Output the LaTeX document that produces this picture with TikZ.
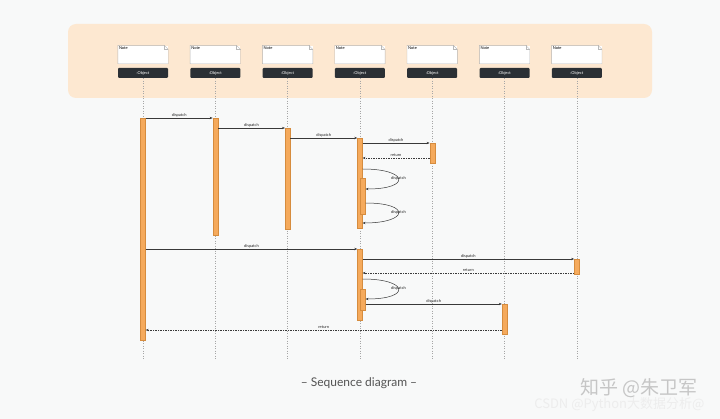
\documentclass[tikz,border=0pt]{standalone}
\usepackage{fontspec}
\setmainfont{Lato}
\newfontfamily\cjk{Noto Sans CJK SC}
\usetikzlibrary{calc,positioning,arrows.meta}

\definecolor{bgcol}{RGB}{248,249,249}
\definecolor{panelcol}{RGB}{253,232,209}
\definecolor{objcol}{RGB}{43,48,53}
\definecolor{barcol}{RGB}{245,170,92}
\definecolor{bardraw}{RGB}{214,140,62}

\tikzset{
    objbox/.style={fill=objcol, rounded corners=1pt, text=white,
        minimum width=50pt, minimum height=10pt, inner sep=0pt,
        font=\fontsize{4}{4}\selectfont},
    notebox/.style={fill=white, minimum width=50pt, minimum height=18pt,
        inner sep=0pt,
        label={[anchor=north west, inner sep=1pt, font=\fontsize{4}{4}\selectfont]north west:Note}},
    noteline/.style={draw=gray!55, line width=0.4pt},
    lifeline/.style={draw=gray!70, dotted, line width=0.5pt},
    bar/.style={fill=barcol, draw=bardraw, line width=0.3pt,
        minimum width=5pt, inner sep=0pt, anchor=north},
    msg/.style={draw=gray!45!black, line width=0.5pt,
        -{Stealth[length=3pt,width=2.4pt]}},
    ret/.style={msg, dashed, dash pattern=on 1.5pt off 1pt},
    lbl/.style={font=\fontsize{4}{4}\selectfont, text=gray!30!black,
        inner sep=0.8pt, above},
}

\begin{document}
\begin{tikzpicture}[x=1pt, y=-1pt]
    \useasboundingbox[fill=bgcol] (0,0) rectangle (720,419);
    \fill[panelcol, rounded corners=8pt] (68,24) rectangle (652,98);

    % heads and lifelines
    \foreach \i in {1,...,7} {
        \node[objbox] (o\i) at ({143+72.3*(\i-1)},73) {:Object};
        \node[notebox, above=4pt of o\i] (n\i) {};
        \draw[noteline] (n\i.north west) -- ([xshift=-4pt]n\i.north east)
            -- ([yshift=-4pt]n\i.north east) -- (n\i.south east)
            -- (n\i.south west) -- cycle;
        \draw[noteline] ([xshift=-4pt]n\i.north east) -- ++(0pt,-4pt)
            -- ([yshift=-4pt]n\i.north east);
        \coordinate (e\i) at (o\i.south |- 0,359);
        \draw[lifeline] (o\i.south) -- (e\i);
    }

    % activations
    \node[bar, minimum height=222pt] (b1) at (o1.south |- 0,118) {};
    \node[bar, minimum height=117pt] (b2) at (o2.south |- 0,118) {};
    \node[bar, minimum height=101pt] (b3) at (o3.south |- 0,128) {};
    \node[bar, minimum height=90pt] (b4) at (o4.south |- 0,138) {};
    \node[bar, minimum height=36pt, xshift=3pt] (b4n) at (o4.south |- 0,178) {};
    \node[bar, minimum height=20pt] (b5) at (o5.south |- 0,143) {};
    \node[bar, minimum height=71pt] (b6) at (o4.south |- 0,249) {};
    \node[bar, minimum height=21pt, xshift=3pt] (b6n) at (o4.south |- 0,289) {};
    \node[bar, minimum height=15pt] (b7) at (o7.south |- 0,259) {};
    \node[bar, minimum height=30pt] (b8) at (o6.south |- 0,304) {};

    % messages
    \draw[msg] (b1.north east) -- node[lbl] {dispatch} (b2.north west);
    \draw[msg] (b2.east |- b3.north) -- node[lbl] {dispatch} (b3.north west);
    \draw[msg] (b3.east |- b4.north) -- node[lbl] {dispatch} (b4.north west);
    \draw[msg] (b4.east |- b5.north) -- node[lbl] {dispatch} (b5.north west);
    \draw[ret] (b5.west |- 0,158) -- node[lbl] {return} (b4.east |- 0,158);
    \draw[msg] (b4.east |- 0,169) .. controls +(46pt,0pt) and +(46pt,0pt)
        .. node[lbl, above=-2.5pt] {dispatch} (b4n.east |- 0,189);
    \draw[msg] (b4n.east |- 0,203) .. controls +(46pt,0pt) and +(46pt,0pt)
        .. node[lbl, above=-2.5pt] {dispatch} (b4.east |- 0,223);

    \draw[msg] (b1.east |- b6.north) -- node[lbl] {dispatch} (b6.north west);
    \draw[msg] (b6.east |- b7.north) -- node[lbl] {dispatch} (b7.north west);
    \draw[ret] (b7.west |- 0,273) -- node[lbl] {return} (b6.east |- 0,273);
    \draw[msg] (b6.east |- 0,279) .. controls +(46pt,0pt) and +(46pt,0pt)
        .. node[lbl, above=-2.5pt] {dispatch} (b6n.east |- 0,299);
    \draw[msg] (b6n.east |- b8.north) -- node[lbl] {dispatch} (b8.north west);
    \draw[ret] (b8.west |- 0,330) -- node[lbl] {return} (b1.east |- 0,330);

    % caption
    \node[text=gray!20!black!75, font=\fontsize{12}{14}\selectfont] (cap) at (359,383) {– Sequence diagram –};
    \node[text=gray!45, font=\cjk\fontsize{19}{20}\selectfont, anchor=east] (wm1) at (701,388) {知乎 @朱卫军};
    \node[text=gray!14, font=\cjk\fontsize{13}{14}\selectfont, anchor=east] (wm2) at (708,405) {CSDN @Python大数据分析@};
\end{tikzpicture}
\end{document}
